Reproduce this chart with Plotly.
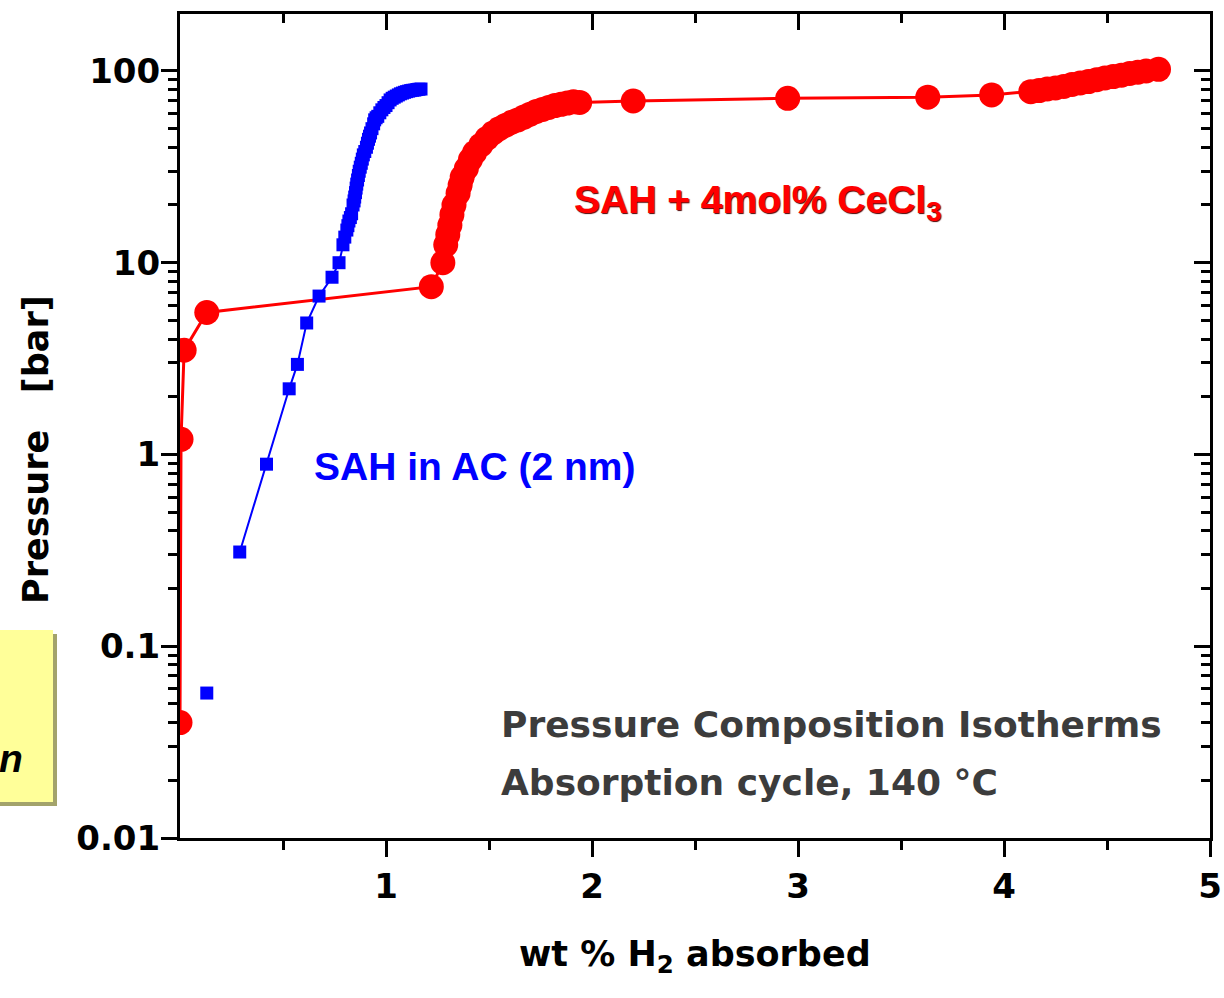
import plotly.graph_objects as go

# ---------------- data ----------------
red_x = [0.0, 0.005, 0.02, 0.13, 1.22, 1.276, 1.29, 1.30, 1.31, 1.32, 1.33, 1.35, 1.36,
         1.37, 1.39, 1.41, 1.43, 1.46, 1.49, 1.52, 1.55, 1.58, 1.61, 1.64, 1.67, 1.70,
         1.73, 1.76, 1.79, 1.82, 1.85, 1.88, 1.91, 1.94, 2.20, 2.95, 3.63, 3.94,
         4.13, 4.17, 4.21, 4.25, 4.29, 4.33, 4.37, 4.41, 4.45, 4.49, 4.53, 4.57,
         4.61, 4.65, 4.69, 4.75]
red_y = [0.04, 1.2, 3.5, 5.5, 7.5, 10, 12.4, 14, 15.7, 17.8, 20, 23, 25.4,
         28, 31, 34.5, 37.5, 41, 44.5, 47.5, 50, 52, 54, 55.5, 57.5, 59.5,
         61.5, 63, 64.5, 66, 67, 68, 69, 68.5, 69.7, 72, 73, 75,
         78, 79, 80.5, 81.5, 83, 85, 86.5, 88, 90, 92, 93.5, 95,
         97, 98.5, 100, 102]

blue_x = [0.13, 0.29, 0.42, 0.53, 0.57, 0.615, 0.675, 0.738, 0.772, 0.791, 0.80, 0.81,
          0.815, 0.82, 0.827, 0.833, 0.84, 0.845, 0.848, 0.852, 0.855, 0.858, 0.862,
          0.866, 0.87, 0.875, 0.88, 0.885, 0.89, 0.897, 0.905, 0.91, 0.915, 0.92,
          0.925, 0.932, 0.94, 0.945, 0.952, 0.96, 0.97, 0.98, 0.99, 1.00, 1.01,
          1.02, 1.03, 1.04, 1.05, 1.06, 1.07, 1.08, 1.09, 1.10, 1.11, 1.12, 1.13,
          1.14, 1.15, 1.16, 1.17]
blue_y = [0.057, 0.31, 0.89, 2.2, 2.95, 4.85, 6.7, 8.4, 10, 12.4, 13.6, 14.8,
          15.6, 16.5, 17.2, 18, 20, 21, 22, 23.2, 24.5, 25.7, 27,
          28.5, 30, 31.5, 33, 34.7, 36.5, 38, 40, 42, 44, 45.7,
          47.5, 50, 53, 55.6, 57, 58, 60.5, 62.7, 64.5, 66, 68.3,
          70.6, 72, 73, 74, 75, 76, 76.7, 77.4, 78, 78.5, 79, 79.3,
          79.5, 80, 80.3, 80.5]

x_tick_vals = [1, 2, 3, 4, 5]
x_tick_text = ["1", "2", "3", "4", "5"]
x_minor_vals = [0.5, 1.5, 2.5, 3.5, 4.5]
y_tick_vals = [0.01, 0.1, 1, 10, 100]
y_tick_text = ["0.01", "0.1", "1", "10", "100"]
y_minor_vals = [m * 10 ** e for e in range(-2, 3) for m in range(2, 10)]

X_RANGE = [0, 5]
Y_RANGE = [-2, 2.297]

RED = "#FF0000"
BLUE = "#0000FF"
GRAY = "#3C3C3C"
WIDE_FONT = "DejaVu Sans"
ARIAL = "Liberation Sans"

# pixel helpers for paper placement (plot area: x 180..1210, y 14..838)
L, R, T, B = 180, 1210, 14, 838


def px(xp):
    return (xp - L) / (R - L)


def py(yp):
    return (B - yp) / (B - T)


fig = go.Figure()

fig.add_trace(go.Scatter(
    x=red_x, y=red_y, mode="lines+markers",
    line=dict(color=RED, width=3),
    marker=dict(symbol="circle", size=25, color=RED, line=dict(width=0)),
    showlegend=False, hoverinfo="skip"))

fig.add_trace(go.Scatter(
    x=blue_x[1:], y=blue_y[1:], mode="lines+markers",
    line=dict(color=BLUE, width=2),
    marker=dict(symbol="square", size=13, color=BLUE, line=dict(width=0)),
    showlegend=False, hoverinfo="skip"))

fig.add_trace(go.Scatter(
    x=blue_x[:1], y=blue_y[:1], mode="markers",
    marker=dict(symbol="square", size=13, color=BLUE, line=dict(width=0)),
    showlegend=False, hoverinfo="skip"))

# dummy trace for mirrored (inside-tick) top/right axes
fig.add_trace(go.Scatter(x=[None], y=[None], xaxis="x2", yaxis="y2",
                         showlegend=False, hoverinfo="skip"))

tick_font = dict(family=WIDE_FONT, size=34, color="black", weight="bold")

common_x = dict(range=X_RANGE, tickmode="array", tickvals=x_tick_vals,
                showline=True, linewidth=3, linecolor="black",
                tickwidth=3, ticklen=16, tickcolor="black",
                showgrid=False, zeroline=False, automargin=False)
common_y = dict(type="log", range=Y_RANGE, tickmode="array", tickvals=y_tick_vals,
                showline=True, linewidth=3, linecolor="black",
                tickwidth=3, ticklen=16, tickcolor="black",
                showgrid=False, zeroline=False, automargin=False)

fig.update_layout(
    width=1224, height=998,
    margin=dict(l=L, r=1224 - R, t=T, b=998 - B),
    paper_bgcolor="white", plot_bgcolor="white",
    xaxis=dict(**common_x, ticktext=x_tick_text, ticks="outside", side="bottom",
               tickfont=tick_font, ticklabelstandoff=0,
               minor=dict(tickmode="array", tickvals=x_minor_vals, ticks="outside",
                          ticklen=9, tickwidth=3, tickcolor="black", showgrid=False)),
    yaxis=dict(**common_y, ticktext=y_tick_text, ticks="outside", side="left",
               tickfont=tick_font, ticklabelstandoff=-6,
               minor=dict(tickmode="array", tickvals=y_minor_vals, ticks="outside",
                          ticklen=9, tickwidth=3, tickcolor="black", showgrid=False)),
    xaxis2=dict(**common_x, overlaying="x", side="top", anchor="y", ticks="inside",
                showticklabels=False,
                minor=dict(tickmode="array", tickvals=x_minor_vals, ticks="inside",
                           ticklen=9, tickwidth=3, tickcolor="black", showgrid=False)),
    yaxis2=dict(**common_y, overlaying="y", side="right", anchor="x", ticks="inside",
                showticklabels=False,
                minor=dict(tickmode="array", tickvals=y_minor_vals, ticks="inside",
                           ticklen=9, tickwidth=3, tickcolor="black", showgrid=False)),
)

# yellow call-out box (cut off at the left edge)
fig.add_shape(type="rect", xref="paper", yref="paper",
              x0=px(-10), x1=px(57), y0=py(806), y1=py(634),
              fillcolor="#A3A36B", line=dict(width=0), layer="above")
fig.add_shape(type="rect", xref="paper", yref="paper",
              x0=px(-10), x1=px(53), y0=py(802), y1=py(630),
              fillcolor="#FFFF99", line=dict(width=0), layer="above")

annotations = [
    dict(text="SAH + 4mol% CeCl<sub>3</sub>", x=px(573), y=py(203), xanchor="left",
         yanchor="middle", font=dict(family=ARIAL, size=39, color=RED, weight="bold",
                                     shadow="1px 1px 1px #500000")),
    dict(text="SAH in AC (2 nm)", x=px(313), y=py(466), xanchor="left",
         yanchor="middle", font=dict(family=ARIAL, size=39, color=BLUE, weight="bold")),
    dict(text="Pressure Composition Isotherms", x=px(500), y=py(724), xanchor="left",
         yanchor="middle", font=dict(family=WIDE_FONT, size=36, color=GRAY, weight="bold")),
    dict(text="Absorption cycle, 140 °C", x=px(500), y=py(782), xanchor="left",
         yanchor="middle", font=dict(family=WIDE_FONT, size=36, color=GRAY, weight="bold")),
    dict(text="wt % H<sub>2</sub> absorbed", x=px(695), y=py(956), xanchor="center",
         yanchor="middle", font=dict(family=WIDE_FONT, size=35, color="black", weight="bold")),
    dict(text="Pressure\u00a0\u00a0\u00a0[bar]", x=px(36), y=py(450), xanchor="center",
         yanchor="middle", textangle=-90,
         font=dict(family=WIDE_FONT, size=35, color="black", weight="bold")),
    dict(text="n", x=px(24), y=py(758), xanchor="right", yanchor="middle",
         font=dict(family=ARIAL, size=39, color="black", weight="bold", style="italic")),
]
for a in annotations:
    a.update(xref="paper", yref="paper", showarrow=False, borderpad=0)
fig.update_layout(annotations=annotations)

fig.write_html("out.html")
